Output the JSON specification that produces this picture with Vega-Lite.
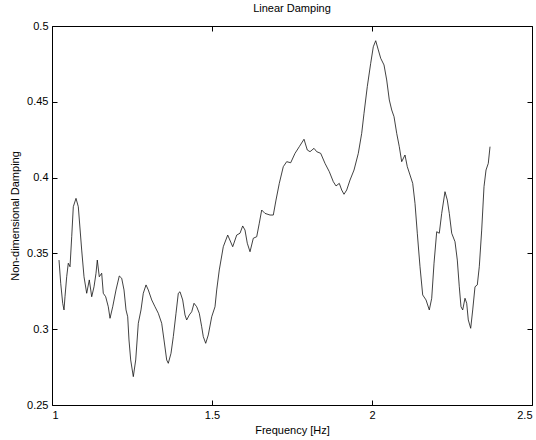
{
  "$schema": "https://vega.github.io/schema/vega-lite/v6.json",
  "autosize": {"type": "none"},
  "padding": {"left": 52, "top": 26, "right": 4, "bottom": 35},
  "width": 480,
  "height": 379,
  "background": "white",
  "title": {"text": "Linear Damping", "font": "Liberation Sans", "fontSize": 11, "fontWeight": "normal", "color": "#000", "offset": 6},
  "config": {
    "view": {"stroke": "#000", "strokeWidth": 1},
    "axis": {"labelFont": "Liberation Sans", "titleFont": "Liberation Sans", "labelFontSize": 11, "titleFontSize": 11, "titleFontWeight": "normal", "labelColor": "#000", "titleColor": "#000", "domainColor": "#000", "tickColor": "#000", "grid": false}
  },
  "data": {"values": [
    {"f": 1.0219, "d": 0.3456}, {"f": 1.0272, "d": 0.3303}, {"f": 1.0334, "d": 0.3171}, {"f": 1.0375, "d": 0.3127},
    {"f": 1.0406, "d": 0.3214}, {"f": 1.0459, "d": 0.3346}, {"f": 1.0509, "d": 0.3435}, {"f": 1.0563, "d": 0.3412},
    {"f": 1.0616, "d": 0.3610}, {"f": 1.0666, "d": 0.3808}, {"f": 1.0750, "d": 0.3863}, {"f": 1.0822, "d": 0.3808},
    {"f": 1.0928, "d": 0.3522}, {"f": 1.1000, "d": 0.3346}, {"f": 1.1084, "d": 0.3237}, {"f": 1.1166, "d": 0.3325},
    {"f": 1.1241, "d": 0.3214}, {"f": 1.1313, "d": 0.3280}, {"f": 1.1375, "d": 0.3369}, {"f": 1.1416, "d": 0.3456},
    {"f": 1.1478, "d": 0.3346}, {"f": 1.1553, "d": 0.3369}, {"f": 1.1603, "d": 0.3237}, {"f": 1.1678, "d": 0.3214},
    {"f": 1.1759, "d": 0.3148}, {"f": 1.1813, "d": 0.3072}, {"f": 1.1897, "d": 0.3148}, {"f": 1.2000, "d": 0.3259},
    {"f": 1.2103, "d": 0.3351}, {"f": 1.2178, "d": 0.3336}, {"f": 1.2250, "d": 0.3259}, {"f": 1.2313, "d": 0.3127},
    {"f": 1.2366, "d": 0.3082}, {"f": 1.2406, "d": 0.2929}, {"f": 1.2459, "d": 0.2797}, {"f": 1.2541, "d": 0.2687},
    {"f": 1.2616, "d": 0.2797}, {"f": 1.2697, "d": 0.3039}, {"f": 1.2781, "d": 0.3127}, {"f": 1.2853, "d": 0.3237},
    {"f": 1.2938, "d": 0.3292}, {"f": 1.3009, "d": 0.3259}, {"f": 1.3116, "d": 0.3193}, {"f": 1.3219, "d": 0.3148},
    {"f": 1.3322, "d": 0.3105}, {"f": 1.3428, "d": 0.3039}, {"f": 1.3500, "d": 0.2929}, {"f": 1.3584, "d": 0.2797},
    {"f": 1.3634, "d": 0.2775}, {"f": 1.3719, "d": 0.2841}, {"f": 1.3791, "d": 0.2951}, {"f": 1.3875, "d": 0.3105},
    {"f": 1.3947, "d": 0.3237}, {"f": 1.4000, "d": 0.3247}, {"f": 1.4084, "d": 0.3193}, {"f": 1.4156, "d": 0.3094},
    {"f": 1.4209, "d": 0.3061}, {"f": 1.4291, "d": 0.3094}, {"f": 1.4366, "d": 0.3115}, {"f": 1.4438, "d": 0.3171},
    {"f": 1.4522, "d": 0.3148}, {"f": 1.4603, "d": 0.3105}, {"f": 1.4678, "d": 0.3016}, {"f": 1.4728, "d": 0.2951},
    {"f": 1.4803, "d": 0.2907}, {"f": 1.4884, "d": 0.2962}, {"f": 1.4991, "d": 0.3082}, {"f": 1.5094, "d": 0.3148},
    {"f": 1.5147, "d": 0.3259}, {"f": 1.5228, "d": 0.3391}, {"f": 1.5353, "d": 0.3544}, {"f": 1.5491, "d": 0.3621},
    {"f": 1.5647, "d": 0.3544}, {"f": 1.5772, "d": 0.3621}, {"f": 1.5875, "d": 0.3633}, {"f": 1.5959, "d": 0.3681},
    {"f": 1.6031, "d": 0.3654}, {"f": 1.6103, "d": 0.3567}, {"f": 1.6188, "d": 0.3511}, {"f": 1.6291, "d": 0.3600},
    {"f": 1.6397, "d": 0.3610}, {"f": 1.6478, "d": 0.3699}, {"f": 1.6553, "d": 0.3786}, {"f": 1.6656, "d": 0.3764},
    {"f": 1.6813, "d": 0.3753}, {"f": 1.6916, "d": 0.3753}, {"f": 1.7000, "d": 0.3852}, {"f": 1.7103, "d": 0.3962},
    {"f": 1.7228, "d": 0.4072}, {"f": 1.7334, "d": 0.4105}, {"f": 1.7459, "d": 0.4098}, {"f": 1.7594, "d": 0.4160},
    {"f": 1.7728, "d": 0.4204}, {"f": 1.7875, "d": 0.4253}, {"f": 1.7978, "d": 0.4182}, {"f": 1.8063, "d": 0.4171},
    {"f": 1.8188, "d": 0.4193}, {"f": 1.8272, "d": 0.4171}, {"f": 1.8397, "d": 0.4160}, {"f": 1.8531, "d": 0.4094},
    {"f": 1.8666, "d": 0.4039}, {"f": 1.8791, "d": 0.3973}, {"f": 1.8875, "d": 0.3945}, {"f": 1.8978, "d": 0.3962},
    {"f": 1.9053, "d": 0.3918}, {"f": 1.9125, "d": 0.3890}, {"f": 1.9209, "d": 0.3918}, {"f": 1.9313, "d": 0.3984},
    {"f": 1.9438, "d": 0.4050}, {"f": 1.9572, "d": 0.4160}, {"f": 1.9678, "d": 0.4292}, {"f": 1.9750, "d": 0.4424},
    {"f": 1.9853, "d": 0.4600}, {"f": 1.9959, "d": 0.4754}, {"f": 2.0041, "d": 0.4863}, {"f": 2.0116, "d": 0.4903},
    {"f": 2.0197, "d": 0.4842}, {"f": 2.0272, "d": 0.4787}, {"f": 2.0375, "d": 0.4743}, {"f": 2.0459, "d": 0.4644},
    {"f": 2.0541, "d": 0.4512}, {"f": 2.0616, "d": 0.4446}, {"f": 2.0688, "d": 0.4402}, {"f": 2.0772, "d": 0.4292},
    {"f": 2.0853, "d": 0.4204}, {"f": 2.0928, "d": 0.4105}, {"f": 2.1031, "d": 0.4149}, {"f": 2.1103, "d": 0.4072},
    {"f": 2.1188, "d": 0.4017}, {"f": 2.1272, "d": 0.3962}, {"f": 2.1344, "d": 0.3830}, {"f": 2.1416, "d": 0.3633},
    {"f": 2.1500, "d": 0.3412}, {"f": 2.1584, "d": 0.3226}, {"f": 2.1688, "d": 0.3193}, {"f": 2.1791, "d": 0.3127},
    {"f": 2.1866, "d": 0.3204}, {"f": 2.1938, "d": 0.3435}, {"f": 2.2022, "d": 0.3643}, {"f": 2.2103, "d": 0.3633},
    {"f": 2.2178, "d": 0.3764}, {"f": 2.2281, "d": 0.3907}, {"f": 2.2353, "d": 0.3852}, {"f": 2.2416, "d": 0.3764},
    {"f": 2.2491, "d": 0.3633}, {"f": 2.2594, "d": 0.3577}, {"f": 2.2666, "d": 0.3456}, {"f": 2.2728, "d": 0.3280},
    {"f": 2.2781, "d": 0.3148}, {"f": 2.2834, "d": 0.3127}, {"f": 2.2906, "d": 0.3204}, {"f": 2.2959, "d": 0.3171},
    {"f": 2.3009, "d": 0.3061}, {"f": 2.3084, "d": 0.3006}, {"f": 2.3147, "d": 0.3127}, {"f": 2.3219, "d": 0.3280},
    {"f": 2.3291, "d": 0.3292}, {"f": 2.3353, "d": 0.3412}, {"f": 2.3428, "d": 0.3654}, {"f": 2.3500, "d": 0.3940},
    {"f": 2.3563, "d": 0.4050}, {"f": 2.3634, "d": 0.4094}, {"f": 2.3688, "d": 0.4204}
  ]},
  "layer": [
    {
      "mark": {"type": "line", "color": "#111", "strokeWidth": 0.8, "clip": true},
      "encoding": {
        "x": {"field": "f", "type": "quantitative", "scale": {"domain": [1, 2.5], "nice": false, "zero": false},
          "axis": {"title": "Frequency [Hz]", "values": [1, 1.5, 2, 2.5], "format": "~g", "tickSize": -5, "labelPadding": 9, "titlePadding": 4, "domain": false}},
        "y": {"field": "d", "type": "quantitative", "scale": {"domain": [0.25, 0.5], "nice": false, "zero": false},
          "axis": {"title": "Non-dimensional Damping", "values": [0.25, 0.3, 0.35, 0.4, 0.45, 0.5], "format": "~g", "tickSize": -5, "labelPadding": 9, "titlePadding": 6, "domain": false}}
      }
    },
    {
      "mark": {"type": "line", "strokeOpacity": 0, "clip": true},
      "encoding": {
        "x": {"field": "f", "type": "quantitative", "scale": {"domain": [1, 2.5], "nice": false, "zero": false},
          "axis": {"orient": "top", "title": null, "values": [1, 1.5, 2, 2.5], "labels": false, "tickSize": -5, "domain": false}},
        "y": {"field": "d", "type": "quantitative", "scale": {"domain": [0.25, 0.5], "nice": false, "zero": false},
          "axis": {"orient": "right", "title": null, "values": [0.25, 0.3, 0.35, 0.4, 0.45, 0.5], "labels": false, "tickSize": -5, "domain": false}}
      }
    }
  ],
  "resolve": {"scale": {"x": "independent", "y": "independent"}, "axis": {"x": "independent", "y": "independent"}}
}
